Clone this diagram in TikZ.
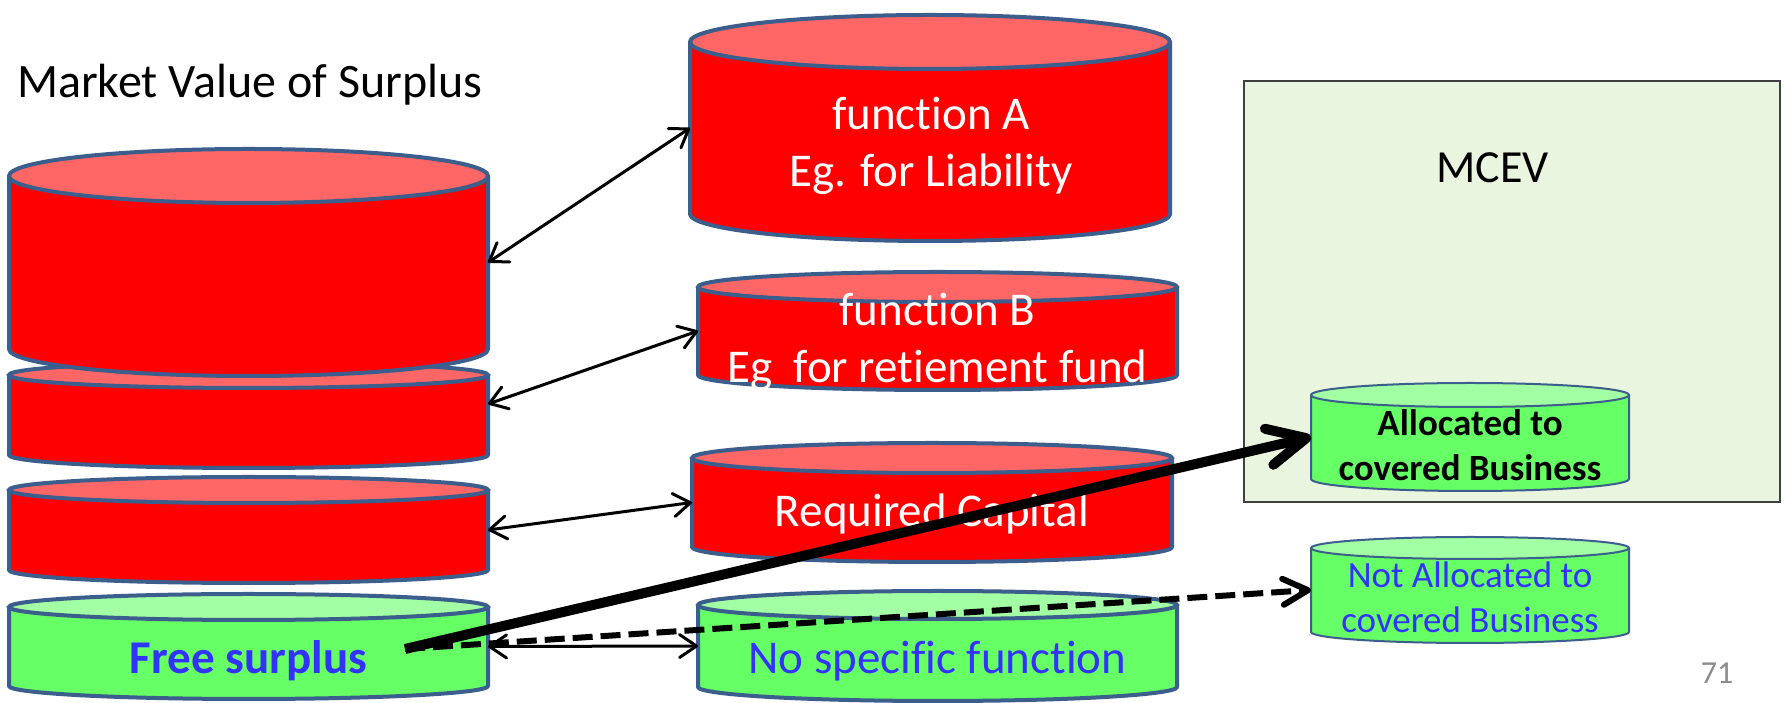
\documentclass[tikz,border=0pt]{standalone}
\usepackage{fontspec}
\setmainfont{Carlito}[Ligatures=NoCommon]
\usetikzlibrary{arrows.meta,fit}

\definecolor{canedge}{HTML}{3B5E8C}
\definecolor{canred}{HTML}{FF0000}
\definecolor{redtop}{HTML}{FF6666}
\definecolor{cangreen}{HTML}{66FF66}
\definecolor{greentop}{HTML}{A3FFA3}
\definecolor{mcevfill}{HTML}{EAF5DF}
\definecolor{framegray}{HTML}{404040}
\definecolor{txtblue}{HTML}{3333FF}
\definecolor{pagegray}{HTML}{8C8C8C}

% two centred lines whose baseline is the first line's baseline
\newcommand{\twoline}[2]{\vtop{\halign{\hfil##\hfil\cr#1\cr#2\cr}}}

% upright can: name, left x, top y, right x, bottom y (y measured downwards
% from the top edge of the page), ellipse half-height, body, lid, outline width
\newcommand{\drawcan}[9]{%
  \pgfmathsetmacro\canCx{(#2+#4)/2}%
  \pgfmathsetmacro\canRx{(#4-#2)/2}%
  \pgfmathsetmacro\canYt{703-#3-#6}%
  \pgfmathsetmacro\canYb{703-#5+#6}%
  \fill[#7] (#2,\canYt) -- (#2,\canYb)
    arc[start angle=180,end angle=360,x radius=\canRx,y radius=#6]
    -- (#4,\canYt) -- cycle;
  \fill[#8] (\canCx,\canYt) ellipse[x radius=\canRx,y radius=#6];
  \draw[canedge,line width=#9,line join=round] (#2,\canYt) -- (#2,\canYb)
    arc[start angle=180,end angle=360,x radius=\canRx,y radius=#6]
    -- (#4,\canYt);
  \draw[canedge,line width=#9] (\canCx,\canYt) ellipse[x radius=\canRx,y radius=#6];
  \node[fit={(#2,{703-#5}) (#4,{703-#3})},inner sep=0pt,outer sep=0pt] (#1) {};
}

\tikzset{
  big/.style={font=\fontsize{47}{57}\selectfont,inner sep=0pt},
  bigbold/.style={font=\fontsize{47}{57}\selectfont\bfseries,inner sep=0pt},
  small/.style={font=\fontsize{37}{45}\selectfont,inner sep=0pt},
  smallbold/.style={font=\fontsize{37}{45}\selectfont\bfseries,inner sep=0pt},
  link/.style={line width=3pt,
    {Straight Barb[length=17pt,width=23pt,line cap=round,line join=round]}-{Straight Barb[length=17pt,width=23pt,line cap=round,line join=round]}},
  heavy/.style={line width=10pt,
    -{Straight Barb[length=38pt,width=37pt,line cap=round,line join=round]}},
  dashlink/.style={line width=6pt,dash pattern=on 20pt off 8pt,
    -{Straight Barb[length=25pt,width=26pt,line cap=round,line join=round]}}
}

\begin{document}
\begin{tikzpicture}[x=1pt,y=1pt]
\useasboundingbox (0,0) rectangle (1787,703);
\fill[white] (0,0) rectangle (1787,703);

% MCEV frame
\node[draw=framegray,line width=1.8pt,fill=mcevfill,inner sep=0pt,
      fit={(1244,{703-502}) (1780,{703-81})}] (mcev) {};
\node[font=\fontsize{46}{55}\selectfont,inner sep=0pt,anchor=base] (tmcev) at (1492.5,520) {MCEV};

% left stack
\drawcan{lv2}{9}{362}{488}{468}{13}{canred}{redtop}{4pt}
\drawcan{lv1}{9}{149}{488}{376}{27}{canred}{redtop}{4pt}
\drawcan{lv3}{9}{477}{488}{583}{13}{canred}{redtop}{4pt}
\drawcan{fs}{9}{594}{488}{699}{13}{cangreen}{greentop}{4pt}

% functions
\drawcan{fa}{690}{15}{1170}{241}{27}{canred}{redtop}{4pt}
\drawcan{fb}{698}{272}{1177}{390}{15}{canred}{redtop}{4pt}
\drawcan{rc}{692}{443}{1172}{562}{15}{canred}{redtop}{4pt}
\drawcan{nsf}{698}{591}{1177}{701}{14}{cangreen}{greentop}{4pt}

% allocation
\drawcan{alloc}{1311}{383}{1629}{491}{12}{cangreen}{greentop}{2pt}
\drawcan{notalloc}{1311}{537}{1629}{643}{11}{cangreen}{greentop}{2pt}

% labels
\node[font=\fontsize{48}{58}\selectfont,inner sep=0pt,anchor=base west] (tmvs) at (17,605) {Market Value of Surplus};
\node[big,text=white,anchor=base] (ta) at (931,573) {\twoline{function A}{Eg. for Liability}};
\node[big,text=white,anchor=base] (tb) at (937.5,377) {\twoline{function B}{Eg\ \ for retiement fund}};
\node[big,text=white,anchor=base] (trc) at (932,176) {Required Capital};
\node[bigbold,text=txtblue,anchor=base] (tfs) at (248.5,29) {Free surplus};
\node[big,text=txtblue,anchor=base] (tnsf) at (937.5,29) {No specific function};
\node[smallbold,anchor=base] (talloc) at (1470,267) {\twoline{Allocated to}{covered Business}};
\node[small,text=txtblue,anchor=base] (tnot) at (1470,115) {\twoline{Not Allocated to}{covered Business}};
\node[font=\fontsize{32}{38}\selectfont,text=pagegray,inner sep=0pt,anchor=base] (tpage) at (1717,19) {71};

% connectors
\coordinate (fsout) at (405,54);
\draw[link] (lv1.east) -- (fa.west);
\draw[link] ([yshift=11pt]lv2.east) -- (fb.west);
\draw[link] (lv3.east) -- (rc.west);
\draw[link] (fs.east) -- (nsf.west);
\draw[dashlink] (fsout) -- (notalloc.west);
\draw[heavy] (fsout) -- (alloc.west);
\end{tikzpicture}
\end{document}
